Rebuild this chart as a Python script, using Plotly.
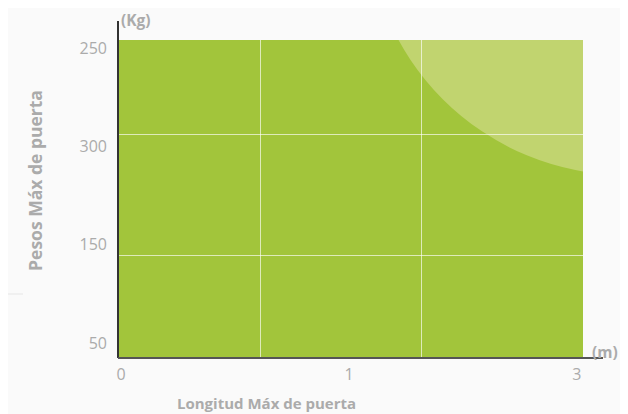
import plotly.graph_objects as go

# ---- data ----
x_tick_labels = ["0", "1", "3"]
x_tick_pos = [0, 1.5, 3]
y_tick_labels = ["50", "150", "300", "250"]   # bottom -> top
y_tick_pos = [0, 1, 2, 3]
x_grid = [0.92, 1.98]
y_grid = [0.885, 2.125]
x_range = [-0.02, 3.04]
y_range = [-0.153, 3.081]
# light "allowed" zone: ellipse in data units (center, radii)
zone_center = (3.322, 4.342)
zone_radius = (1.704, 2.634)

GREEN = "#a2c53b"
LIGHT = "#c1d46f"
GRAY = "#ababab"
FONT = "Open Sans"

fig = go.Figure()
# dummy traces to create the axes
fig.add_trace(go.Scatter(x=[x_range[0]], y=[y_range[0]], mode="markers",
                         marker=dict(opacity=0), hoverinfo="skip", showlegend=False))
fig.add_trace(go.Scatter(x=[x_range[0]], y=[y_range[0]], mode="markers",
                         marker=dict(opacity=0), hoverinfo="skip", showlegend=False,
                         xaxis="x2", yaxis="y2"))

cx, cy = zone_center
rx, ry = zone_radius
fig.add_shape(type="circle", xref="x", yref="y",
              x0=cx - rx, x1=cx + rx, y0=cy - ry, y1=cy + ry,
              fillcolor=LIGHT, line=dict(width=0), layer="below")

# axis lines (extend past plot area)
fig.add_shape(type="line", xref="paper", yref="paper", x0=0, x1=0, y0=0, y1=1.06,
              line=dict(color="#333333", width=2))
fig.add_shape(type="line", xref="paper", yref="paper", x0=0, x1=1.043, y0=0, y1=0,
              line=dict(color="#555555", width=2))
# faint decorative line at left
fig.add_shape(type="line", xref="paper", yref="paper", x0=-0.2538, x1=-0.2043,
              y0=0.2013, y1=0.2013, line=dict(color="#e6e6e6", width=1))

grid_color = "rgba(255,255,255,0.65)"
fig.update_layout(
    width=620, height=406,
    margin=dict(l=110, r=45, t=32, b=56),
    paper_bgcolor="#fafafa",
    plot_bgcolor=GREEN,
    showlegend=False,
    font=dict(family=FONT, color=GRAY, size=16),
    xaxis=dict(range=x_range, tickvals=x_grid, showticklabels=False,
               showgrid=True, gridcolor=grid_color, gridwidth=1,
               zeroline=False, showline=False, ticks=""),
    yaxis=dict(range=y_range, tickvals=y_grid, showticklabels=False,
               showgrid=True, gridcolor=grid_color, gridwidth=1,
               zeroline=False, showline=False, ticks=""),
    xaxis2=dict(range=x_range, overlaying="x", side="bottom", anchor="y2",
                tickvals=x_tick_pos, ticktext=x_tick_labels,
                showgrid=False, zeroline=False, showline=False, ticks="",
                ticklabelstandoff=5, tickfont=dict(size=16, color=GRAY)),
    yaxis2=dict(range=y_range, overlaying="y", side="left", anchor="x2",
                tickvals=y_tick_pos, ticktext=y_tick_labels,
                showgrid=False, zeroline=False, showline=False, ticks="",
                ticklabelstandoff=10, tickfont=dict(size=16, color=GRAY)),
    annotations=[
        dict(text="<b>Longitud Máx de puerta</b>", xref="paper", yref="paper",
             x=0.3204, y=-0.1415, showarrow=False, xanchor="center", yanchor="middle",
             font=dict(size=15, color=GRAY)),
        dict(text="<b>Pesos Máx de puerta</b>", xref="paper", yref="paper",
             x=-0.1785, y=0.56, showarrow=False, textangle=-90,
             xanchor="center", yanchor="middle", font=dict(size=17.5, color=GRAY)),
        dict(text="<b>(Kg)</b>", xref="paper", yref="paper", x=0.002, y=1.063,
             showarrow=False, xanchor="left", yanchor="middle",
             font=dict(size=15.5, color=GRAY)),
        dict(text="<b>(m)</b>", xref="paper", yref="paper", x=1.015, y=0.019,
             showarrow=False, xanchor="left", yanchor="middle",
             font=dict(size=15.5, color=GRAY)),
    ],
)

fig.write_html("out.html")
